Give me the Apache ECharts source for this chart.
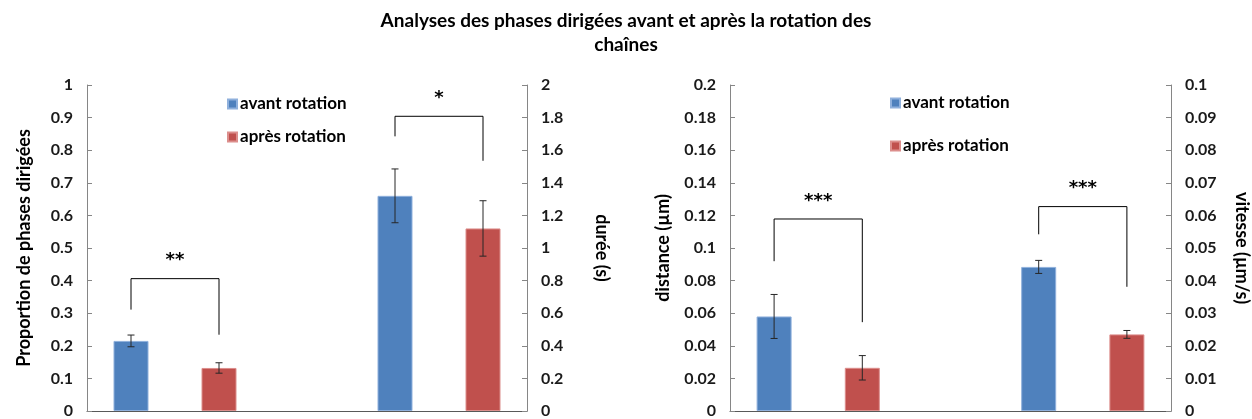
<!DOCTYPE html>
<html>
<head>
<meta charset="utf-8">
<script src="https://cdn.jsdelivr.net/npm/echarts@6/dist/echarts.min.js"></script>
<style>
html,body{margin:0;padding:0;background:#fff;}
#chart{width:1252px;height:419px;}
</style>
</head>
<body>
<div id="chart"></div>
<script>
// ---------- data ----------
var titleText = 'Analyses des phases dirigées avant et après la rotation des\nchaînes';
var slots = ['1', '2', '3', '4', '5'];
var legendNames = ['avant rotation', 'après rotation'];

// left chart
var proportionAvant = [0, 0.215, 0.018];   // [slot, value, error]
var proportionApres = [1, 0.132, 0.016];
var dureeAvant = [3, 1.32, 0.165];
var dureeApres = [4, 1.12, 0.17];
// right chart
var distanceAvant = [0, 0.058, 0.0135];
var distanceApres = [1, 0.0265, 0.0075];
var vitesseAvant = [3, 0.0442, 0.002];
var vitesseApres = [4, 0.0235, 0.0012];

// significance brackets: [slotStart, slotEnd, top, leftEnd, rightEnd]
var bracketProportion = [0, 1, 0.406, 0.311, 0.234];
var bracketDuree = [3, 4, 1.808, 1.685, 1.535];
var bracketDistance = [0, 1, 0.1178, 0.0919, 0.0545];
var bracketVitesse = [3, 4, 0.0627, 0.0542, 0.0381];
var starsProportion = '**';
var starsDuree = '*';
var starsDistance = '***';
var starsVitesse = '***';

var axisNames = ['Proportion de phases dirigées', 'durée (s)', 'distance (µm)', 'vitesse (µm/s)'];

// ---------- styling ----------
var FONT = 'Lato';
var BLUE = '#4f81bd', RED = '#c0504d';
var BLUE_B = '#8fb0dc', RED_B = '#dc8e8c';

function barData(item) {
  var arr = slots.map(function () { return '-'; });
  arr[item[0]] = item[1];
  return arr;
}

function barSeries(name, item, grid, yIdx, color, border) {
  return {
    type: 'bar', name: name, xAxisIndex: grid, yAxisIndex: yIdx,
    data: barData(item), barWidth: 35, barGap: '-100%',
    itemStyle: { color: color, borderColor: border, borderWidth: 1 },
    emphasis: { disabled: true }, silent: true
  };
}

function errRender(params, api) {
  var x = api.value(0), v = api.value(1), e = api.value(2);
  var hi = api.coord([x, v + e]);
  var lo = api.coord([x, v - e]);
  var w = 3.5;
  var st = { stroke: '#262626', lineWidth: 1 };
  return {
    type: 'group', children: [
      { type: 'line', shape: { x1: hi[0], y1: hi[1], x2: lo[0], y2: lo[1] }, style: st },
      { type: 'line', shape: { x1: hi[0] - w, y1: hi[1], x2: hi[0] + w, y2: hi[1] }, style: st },
      { type: 'line', shape: { x1: lo[0] - w, y1: lo[1], x2: lo[0] + w, y2: lo[1] }, style: st }
    ]
  };
}

function errSeries(item, grid, yIdx) {
  return {
    type: 'custom', xAxisIndex: grid, yAxisIndex: yIdx, silent: true,
    renderItem: errRender, encode: { x: 0, y: 1 },
    data: [item], z: 5
  };
}

function bracketSeries(item, stars, grid, yIdx) {
  return {
    type: 'custom', xAxisIndex: grid, yAxisIndex: yIdx, silent: true,
    encode: { x: [0, 1], y: [2, 3, 4] },
    data: [item], z: 6,
    renderItem: function (params, api) {
      var x1 = api.value(0), x2 = api.value(1), top = api.value(2), yl = api.value(3), yr = api.value(4);
      var a = api.coord([x1, yl]), b = api.coord([x1, top]), c = api.coord([x2, top]), d = api.coord([x2, yr]);
      return {
        type: 'group', children: [
          { type: 'polyline', shape: { points: [a, b, c, d] }, style: { stroke: '#000', lineWidth: 1, fill: null } },
          { type: 'text', style: { text: stars, x: (b[0] + c[0]) / 2, y: b[1] - 18, align: 'center', verticalAlign: 'middle',
            font: 'bold 18px "DejaVu Sans"', fill: '#000' } }
        ]
      };
    }
  };
}

function yAxis(grid, pos, max, interval, name, rot, gap) {
  return {
    type: 'value', gridIndex: grid, position: pos, min: 0, max: max, interval: interval,
    name: name, nameLocation: 'middle', nameRotate: rot, nameGap: gap,
    nameTextStyle: { fontFamily: FONT, fontWeight: 'bold', fontSize: 18, color: '#000' },
    axisLine: { show: true, lineStyle: { color: '#868686', width: 1 } },
    axisTick: { show: true, inside: true, length: 5, lineStyle: { color: '#868686' } },
    axisLabel: { margin: 14, fontFamily: FONT, fontWeight: 'bold', fontSize: 16, color: '#1a1a1a' },
    splitLine: { show: false }
  };
}

function xAxis(grid) {
  return {
    type: 'category', gridIndex: grid, data: slots,
    axisLine: { show: true, lineStyle: { color: '#595959', width: 1 } },
    axisTick: { show: false }, axisLabel: { show: false }, splitLine: { show: false }
  };
}

function legend(left, top, gap) {
  return {
    data: legendNames, orient: 'vertical', left: left, top: top, itemGap: gap,
    padding: 0, itemWidth: 9, itemHeight: 9, icon: 'rect',
    textStyle: { fontFamily: FONT, fontWeight: 'bold', fontSize: 17, color: '#000', lineHeight: 18, padding: [0, 0, 0, -2] },
    selectedMode: false
  };
}

var chart = echarts.init(document.getElementById('chart'), null, { renderer: 'canvas' });
chart.setOption({
  animation: false,
  backgroundColor: '#fff',
  title: {
    text: titleText, left: 'center', top: 4, padding: [5, 0, 5, 18],
    textStyle: { fontFamily: FONT, fontWeight: 'bold', fontSize: 19, lineHeight: 24, color: '#000' }
  },
  legend: [legend(227, 95, 15), legend(890, 94, 25)],
  grid: [
    { left: 87, right: 1252 - 527, top: 85, bottom: 5 },
    { left: 730, right: 1252 - 1171, top: 85, bottom: 5 }
  ],
  xAxis: [xAxis(0), xAxis(1)],
  yAxis: [
    yAxis(0, 'left', 1, 0.1, axisNames[0], 90, 54),
    yAxis(0, 'right', 2, 0.2, axisNames[1], -90, 66),
    yAxis(1, 'left', 0.2, 0.02, axisNames[2], 90, 58),
    yAxis(1, 'right', 0.1, 0.01, axisNames[3], -90, 62)
  ],
  series: [
    barSeries(legendNames[0], proportionAvant, 0, 0, BLUE, BLUE_B),
    barSeries(legendNames[1], proportionApres, 0, 0, RED, RED_B),
    barSeries(legendNames[0], dureeAvant, 0, 1, BLUE, BLUE_B),
    barSeries(legendNames[1], dureeApres, 0, 1, RED, RED_B),
    barSeries(legendNames[0], distanceAvant, 1, 2, BLUE, BLUE_B),
    barSeries(legendNames[1], distanceApres, 1, 2, RED, RED_B),
    barSeries(legendNames[0], vitesseAvant, 1, 3, BLUE, BLUE_B),
    barSeries(legendNames[1], vitesseApres, 1, 3, RED, RED_B),
    errSeries(proportionAvant, 0, 0),
    errSeries(proportionApres, 0, 0),
    errSeries(dureeAvant, 0, 1),
    errSeries(dureeApres, 0, 1),
    errSeries(distanceAvant, 1, 2),
    errSeries(distanceApres, 1, 2),
    errSeries(vitesseAvant, 1, 3),
    errSeries(vitesseApres, 1, 3),
    bracketSeries(bracketProportion, starsProportion, 0, 0),
    bracketSeries(bracketDuree, starsDuree, 0, 1),
    bracketSeries(bracketDistance, starsDistance, 1, 2),
    bracketSeries(bracketVitesse, starsVitesse, 1, 3)
  ]
});
</script>
</body>
</html>
